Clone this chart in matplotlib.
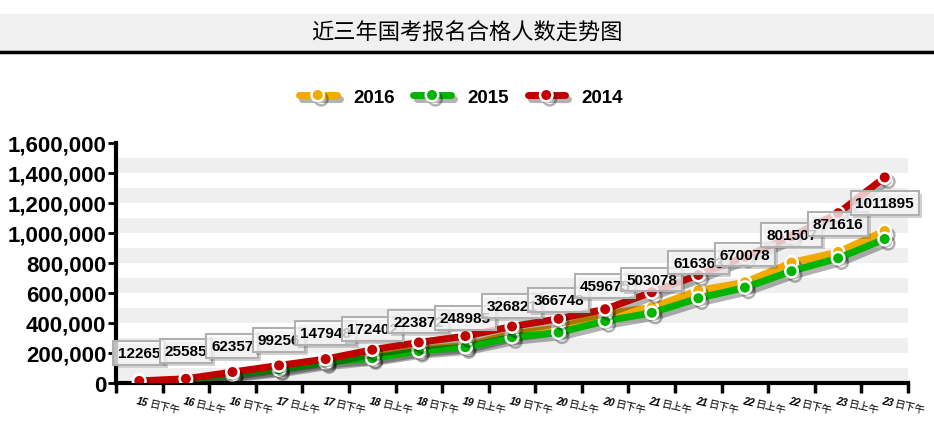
import math
import matplotlib
matplotlib.use("Agg")
import matplotlib.pyplot as plt
import matplotlib.patheffects as pe
from matplotlib.patches import Rectangle
from matplotlib.lines import Line2D

plt.rcParams['font.family'] = ['Liberation Sans', 'Noto Sans CJK SC', 'DejaVu Sans']

# --- data ---
days = ['15', '16', '16', '17', '17', '18', '18', '19', '19', '20', '20', '21',
        '21', '22', '22', '23', '23']
halves = ['日下午', '日上午', '日下午', '日上午', '日下午', '日上午', '日下午', '日上午',
          '日下午', '日上午', '日下午', '日上午', '日下午', '日上午', '日下午', '日上午', '日下午']
y2016 = [12265, 25585, 62357, 99256, 147948, 172402, 223872, 248985, 326821,
         366748, 459675, 503078, 616363, 670078, 801507, 871616, 1011895]
y2015 = [10000, 22000, 58000, 90000, 138000, 165000, 213000, 238000, 305000,
         336000, 412000, 467000, 564000, 635000, 744000, 830000, 958000]
y2014 = [14000, 28000, 73000, 117000, 159000, 221000, 270000, 312000, 376000,
         427000, 491000, 604000, 719000, 840000, 975000, 1130000, 1368000]
yticks = [0, 200000, 400000, 600000, 800000, 1000000, 1200000, 1400000, 1600000]

series = [('2016', y2016, '#f2aa00'), ('2015', y2015, '#00b400'), ('2014', y2014, '#c00000')]

fig = plt.figure(figsize=(9.34, 4.39), dpi=100)

# title band
fig.patches.append(Rectangle((0, 1 - 52 / 439), 1, 37 / 439, transform=fig.transFigure,
                             facecolor='#f0f0f0', edgecolor='none', zorder=0))
fig.lines.append(Line2D([0, 1], [1 - 53 / 439] * 2, transform=fig.transFigure,
                        color='black', lw=2.5))
fig.text(0.5, 1 - 33 / 439, '近三年国考报名合格人数走势图', ha='center', va='center',
         fontsize=16, family=['Noto Sans CJK SC'])

ax = fig.add_axes([116 / 934, 1 - 384 / 439, 792 / 934, 240.5 / 439])
x = list(range(len(days)))

# alternating bands
for lo in range(0, 1600000, 200000):
    ax.axhspan(lo, lo + 100000, color='#efefef', lw=0, zorder=0)

shadow = [pe.SimpleLineShadow(offset=(2.5, -3), shadow_color='k', alpha=0.3), pe.Normal()]
handles = []
for z, (name, vals, col) in enumerate(series):
    ln, = ax.plot(x, vals, color=col, lw=5, marker='o', ms=9, mfc=col, mec='white',
                  mew=1.8, label=name, zorder=3 + z, path_effects=shadow,
                  solid_capstyle='round')
    handles.append(ln)

# data labels for 2016
for i, v in enumerate(y2016):
    t = ax.annotate(str(v), (i, v), xytext=(0, 20), textcoords='offset points',
                    ha='center', va='center', fontsize=11, fontweight='bold', zorder=10,
                    bbox=dict(boxstyle='square,pad=0.32', fc=(1, 1, 1, 0.75),
                              ec='#b0b0b0', lw=1.5))
    t.get_bbox_patch().set_path_effects([pe.withSimplePatchShadow(offset=(2, -2), alpha=0.25)])

ax.set_xlim(-0.5, len(days) - 0.5)
ax.set_ylim(0, 1600000)
ax.set_yticks(yticks)
ax.set_yticklabels([f'{v:,}' for v in yticks], fontsize=16, fontweight='bold')
ax.set_xticks([i - 0.5 for i in range(len(days) + 1)])
ax.set_xticklabels([])
ax.tick_params(axis='y', length=6, width=2, pad=1)
ax.tick_params(axis='x', length=7, width=2.5)
for s in ['top', 'right']:
    ax.spines[s].set_visible(False)
for s in ['left', 'bottom']:
    ax.spines[s].set_linewidth(3)

# category labels: bold italic day number + regular suffix, slightly rotated
rot = -13
dx, dy = 9.0 * math.cos(math.radians(rot)), 9.0 * math.sin(math.radians(rot))
for i, (d, h) in enumerate(zip(days, halves)):
    ax.annotate(d, (i, 0), xycoords=('data', 'axes fraction'), xytext=(-1, -9),
                textcoords='offset points', ha='left', va='top', rotation=rot,
                rotation_mode='anchor', fontsize=7.5, fontweight='bold', fontstyle='italic')
    ax.annotate(h, (i, 0), xycoords=('data', 'axes fraction'), xytext=(-1 + dx, -9 + dy),
                textcoords='offset points', ha='left', va='top', rotation=rot,
                rotation_mode='anchor', fontsize=7.5)

fig.legend(handles=handles, loc='center', bbox_to_anchor=(461 / 934, 1 - 98 / 439),
           ncol=3, frameon=False, handlelength=2.0, handletextpad=0.88, columnspacing=1.0,
           prop=dict(size=13.5, weight='bold'))

fig.savefig('out.png', dpi=100)
